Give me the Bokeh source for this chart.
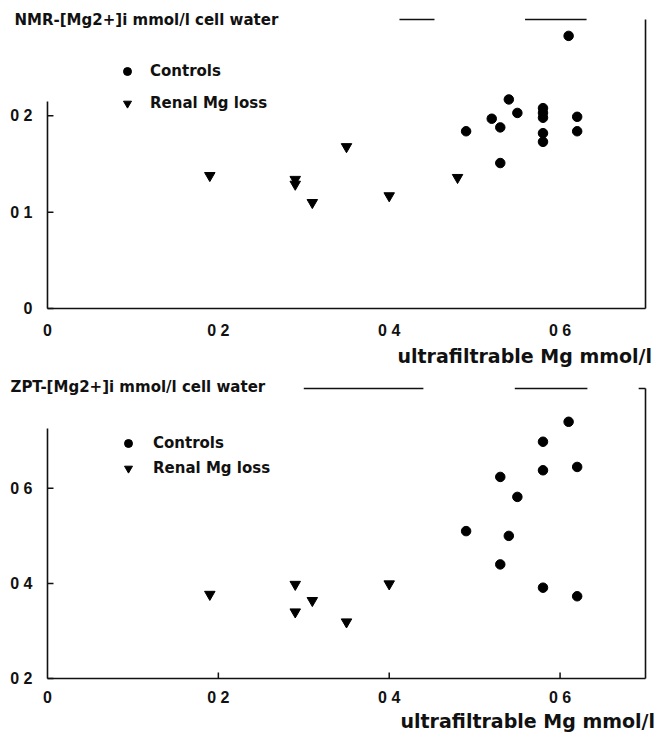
from bokeh.plotting import figure
from bokeh.models import Range1d, FixedTicker, Legend, LegendItem, Title
from bokeh.layouts import column
from bokeh.embed import file_html
from bokeh.resources import INLINE

# ---------------- data ----------------
# upper panel: NMR-[Mg2+]i vs ultrafiltrable Mg
nmr_ctrl_x = [0.49, 0.52, 0.53, 0.53, 0.54, 0.55, 0.58, 0.58, 0.58, 0.58, 0.58, 0.61, 0.62, 0.62]
nmr_ctrl_y = [0.184, 0.197, 0.188, 0.151, 0.217, 0.203, 0.208, 0.203, 0.198, 0.182, 0.173, 0.283, 0.199, 0.184]
nmr_renal_x = [0.19, 0.29, 0.29, 0.31, 0.35, 0.40, 0.48]
nmr_renal_y = [0.138, 0.134, 0.129, 0.110, 0.168, 0.117, 0.136]

# lower panel: ZPT-[Mg2+]i vs ultrafiltrable Mg
zpt_ctrl_x = [0.49, 0.53, 0.53, 0.54, 0.55, 0.58, 0.58, 0.58, 0.61, 0.62, 0.62]
zpt_ctrl_y = [0.510, 0.624, 0.440, 0.500, 0.582, 0.698, 0.638, 0.391, 0.740, 0.645, 0.373]
zpt_renal_x = [0.19, 0.29, 0.29, 0.31, 0.35, 0.40]
zpt_renal_y = [0.377, 0.398, 0.340, 0.364, 0.319, 0.399]

x_ticks = [0, 0.2, 0.4, 0.6]
x_tick_labels = ["0", "0 2", "0 4", "0 6"]
nmr_y_ticks = [0, 0.1, 0.2]
nmr_y_tick_labels = ["0", "0 1", "0 2"]
zpt_y_ticks = [0.2, 0.4, 0.6]
zpt_y_tick_labels = ["0 2", "0 4", "0 6"]

x_title = "ultrafiltrable Mg mmol/l"
nmr_title = "NMR-[Mg2+]i mmol/l cell water"
zpt_title = "ZPT-[Mg2+]i mmol/l cell water"
legend_labels = ["Controls", "Renal Mg loss"]

INK = "#111111"
TITLE_FONT = "DejaVu Sans"
TICK_FONT = "Liberation Sans"
PAD = 2  # px of white space kept around the drawn frame lines


def make_panel(height, mb, x_lim, y_lim, ppx, ppy, xt, xtl, yt, ytl, cx, cy, rx, ry,
               ytitle, ytitle_offset, ytitle_standoff, xtitle_offset, xtitle_standoff,
               xlabel_standoff,
               spine_top, top_segments, x_tick_len, legend_loc, legend_spacing,
               legend_standoff):
    x_lo, x_hi = x_lim
    y_lo, y_hi = y_lim
    p = figure(width=658, height=height,
               x_range=Range1d(x_lo - PAD / ppx, x_hi + PAD / ppx),
               y_range=Range1d(y_lo - PAD / ppy, y_hi + PAD / ppy),
               output_backend="svg", toolbar_location=None,
               min_border_left=mb[0], min_border_right=mb[1],
               min_border_top=mb[2], min_border_bottom=mb[3])
    p.outline_line_color = None
    p.grid.visible = False
    p.background_fill_color = "white"
    p.border_fill_color = "white"

    p.add_layout(Title(text=ytitle, align="left", offset=ytitle_offset,
                       standoff=ytitle_standoff,
                       text_font=TITLE_FONT, text_font_style="bold",
                       text_font_size="15px", text_color=INK), "above")

    xa = p.xaxis[0]
    xa.ticker = FixedTicker(ticks=xt)
    xa.major_label_overrides = {t: s for t, s in zip(xt, xtl)}
    xa.axis_line_color = None
    xa.major_tick_line_color = None
    xa.minor_tick_line_color = None
    xa.major_label_standoff = xlabel_standoff
    xa.major_label_text_font = TICK_FONT
    xa.major_label_text_font_style = "bold"
    xa.major_label_text_font_size = "16px"
    xa.major_label_text_color = INK

    p.add_layout(Title(text=x_title, align="left", offset=xtitle_offset,
                       standoff=xtitle_standoff, vertical_align="top",
                       text_font=TITLE_FONT, text_font_style="bold",
                       text_font_size="19px", text_color=INK), "below")

    ya = p.yaxis[0]
    ya.ticker = FixedTicker(ticks=yt)
    ya.major_label_overrides = {t: s for t, s in zip(yt, ytl)}
    ya.axis_line_color = None
    ya.major_tick_line_color = None
    ya.minor_tick_line_color = None
    ya.major_label_standoff = 7
    ya.major_label_orientation = "horizontal"
    ya.major_label_text_font = TICK_FONT
    ya.major_label_text_font_style = "bold"
    ya.major_label_text_font_size = "16px"
    ya.major_label_text_color = INK

    # frame: bottom axis line, left spine, right side, broken top side
    p.segment(x0=[x_lo, x_lo, x_hi], y0=[y_lo, y_lo, y_lo],
              x1=[x_hi, x_lo, x_hi], y1=[y_lo, spine_top, y_hi],
              line_color=INK, line_width=1.6)
    p.segment(x0=[s[0] for s in top_segments], y0=[y_hi] * len(top_segments),
              x1=[s[1] for s in top_segments], y1=[y_hi] * len(top_segments),
              line_color=INK, line_width=1.5)
    # inward tick marks at the axis tick values
    p.segment(x0=[x_lo] * len(yt), y0=yt, x1=[x_lo + 6 / ppx] * len(yt), y1=yt,
              line_color=INK, line_width=1.5)
    if x_tick_len:
        xt_in = [t for t in xt if t > x_lo]
        p.segment(x0=xt_in, y0=[y_lo] * len(xt_in), x1=xt_in,
                  y1=[y_lo + x_tick_len / ppy] * len(xt_in),
                  line_color=INK, line_width=1.5)

    rc = p.scatter(cx, cy, marker="circle", size=9.5, fill_color="black", line_color="black")
    rr = p.scatter(rx, ry, marker="inverted_triangle", size=10.5, fill_color="black",
                   line_color="black")

    legend = Legend(items=[LegendItem(label=legend_labels[0], renderers=[rc]),
                           LegendItem(label=legend_labels[1], renderers=[rr])],
                    location=legend_loc, orientation="vertical",
                    padding=0, margin=0, spacing=legend_spacing,
                    glyph_width=20, glyph_height=20, label_height=20,
                    label_standoff=legend_standoff,
                    border_line_color=None, background_fill_alpha=0,
                    label_text_font=TITLE_FONT, label_text_font_style="bold",
                    label_text_font_size="15px", label_text_color=INK)
    p.add_layout(legend, "center")
    return p


# upper panel: x 0..0.7 on 43..645 px, y 0..0.3 on 308..19 px
top = make_panel(
    height=373, mb=(41, 11, 17, 63),
    x_lim=(0.0, 0.7), y_lim=(0.0, 0.3), ppx=860.0, ppy=963.0,
    xt=x_ticks, xtl=x_tick_labels, yt=nmr_y_ticks, ytl=nmr_y_tick_labels,
    cx=nmr_ctrl_x, cy=nmr_ctrl_y, rx=nmr_renal_x, ry=nmr_renal_y,
    ytitle=nmr_title, ytitle_offset=-31, ytitle_standoff=-23,
    xtitle_offset=352, xtitle_standoff=6, xlabel_standoff=5,
    spine_top=0.215, top_segments=[(0.412, 0.453), (0.559, 0.631)],
    x_tick_len=0, legend_loc=(72, 197), legend_spacing=12, legend_standoff=13)

# lower panel: x 0..0.7 on 47..646 px, y 0.2..0.81 on 678..388 px
bottom = make_panel(
    height=364, mb=(45, 10, 13, 57),
    x_lim=(0.0, 0.7), y_lim=(0.2, 0.81), ppx=855.7, ppy=475.4,
    xt=x_ticks, xtl=x_tick_labels, yt=zpt_y_ticks, ytl=zpt_y_tick_labels,
    cx=zpt_ctrl_x, cy=zpt_ctrl_y, rx=zpt_renal_x, ry=zpt_renal_y,
    ytitle=zpt_title, ytitle_offset=-35, ytitle_standoff=-19,
    xtitle_offset=355, xtitle_standoff=3, xlabel_standoff=2,
    spine_top=0.726, top_segments=[(0.30, 0.44), (0.547, 0.632), (0.692, 0.7)],
    x_tick_len=6, legend_loc=(73, 202), legend_spacing=5, legend_standoff=15)

layout = column(top, bottom, spacing=0)
open("out.html", "w").write(file_html(layout, INLINE))
